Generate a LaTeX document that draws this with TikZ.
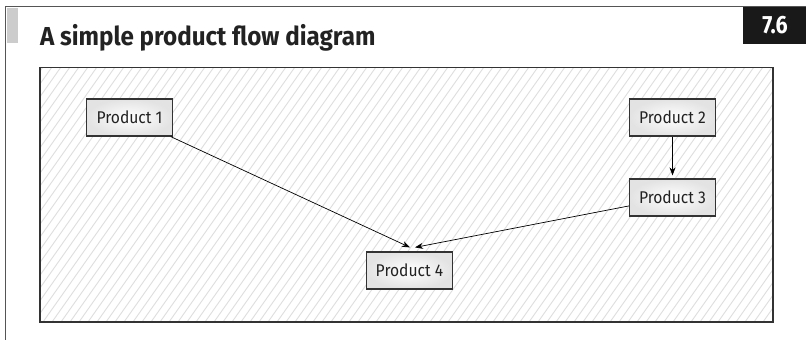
\documentclass[tikz,border=0pt]{standalone}
\usepackage{fontspec}
\setmainfont{Fira Sans}
\newfontfamily\nodefont[FakeStretch=0.92]{Fira Sans}
\newfontfamily\titlefont[FakeStretch=0.93]{Fira Sans}
\newfontfamily\badgefont[FakeStretch=0.86]{Fira Sans}
\usetikzlibrary{arrows.meta}
\definecolor{frame}{HTML}{555555}
\definecolor{boxline}{HTML}{333333}
\definecolor{hatch}{HTML}{DEDEDE}
\definecolor{txt}{HTML}{222222}
\tikzset{
  prodbox/.style={draw=boxline, line width=1.2pt, rectangle, minimum width=86pt, minimum height=37pt,
    inner sep=0pt, inner color=white, outer color=black!11, text=txt,
    font=\nodefont\fontsize{17}{20}\selectfont},
  flow/.style={-{Stealth[length=8pt,width=6pt]}, line width=0.7pt, draw=black}
}
\begin{document}
\begin{tikzpicture}[x=1pt,y=-1pt]
\useasboundingbox (0,0) rectangle (806,340);
% frame lines
\draw[frame, line width=1.6pt] (5.5,340) -- (5.5,6.5) -- (806,6.5);
\fill[black!20] (7,8) rectangle (18,43);
% title
\node[anchor=base west, inner sep=0pt, text=txt, font=\titlefont\bfseries\fontsize{26}{30}\selectfont] (title) at (40,45) {A simple product flow diagram};
% badge
\fill[black!90] (743,7.3) rectangle (806,44);
\node[anchor=base, inner sep=0pt, text=white, font=\badgefont\bfseries\fontsize{25}{30}\selectfont] (badge) at (775,34) {7.6};
% hatched area
\begin{scope}
  \clip (40,67.5) rectangle (773,322);
  \fill[white] (40,67.5) rectangle (773,322);
  \foreach \x in {-200,-191,...,780} {
    \draw[hatch, line width=0.9pt] (\x,322) -- ++(180,-255);
  }
\end{scope}
\draw[boxline, line width=1.4pt] (40,67.5) rectangle (773,322);
% nodes
\node[prodbox] (p1) at (129.5,117.5) {Product 1};
\node[prodbox] (p2) at (672.5,117.5) {Product 2};
\node[prodbox] (p3) at (672.5,197.5) {Product 3};
\node[prodbox] (p4) at (409.5,270.5) {Product 4};
% connectors
\draw[flow] (p1) -- ([xshift=0.5pt,yshift=4pt]p4.north);
\draw[flow] (p3) -- ([xshift=5.5pt,yshift=4pt]p4.north);
\draw[flow, shorten >=3pt] (p2) -- (p3);
\end{tikzpicture}
\end{document}
